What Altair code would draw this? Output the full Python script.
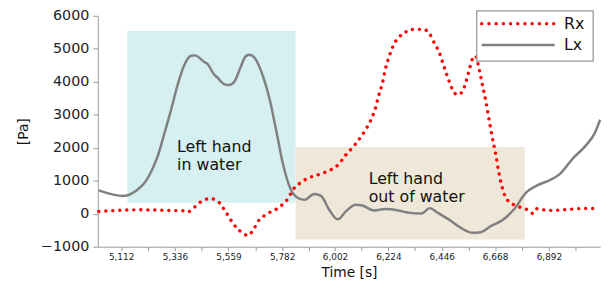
import altair as alt
import pandas as pd

# ---- data ----
lx_time = [5019, 5122, 5177, 5211, 5238, 5266, 5293, 5320, 5348, 5375, 5403, 5419,
           5458, 5471, 5499, 5512, 5540, 5560, 5581, 5608, 5629, 5645, 5663, 5704,
           5731, 5759, 5786, 5814, 5841, 5875, 5916, 5944, 5978, 6013, 6047, 6088,
           6115, 6163, 6211, 6266, 6314, 6362, 6396, 6430, 6485, 6526, 6574, 6608,
           6649, 6704, 6745, 6800, 6841, 6896, 6937, 6992, 7047, 7081, 7105]
lx_val = [710, 540, 710, 950, 1290, 1780, 2460, 3150, 3930, 4510, 4790, 4800,
          4600, 4540, 4220, 4130, 3930, 3900, 3980, 4420, 4760, 4820, 4760, 4130,
          3440, 2460, 1490, 800, 510, 420, 600, 540, 120, -170, 70, 270,
          250, 100, 140, 100, 25, 5, 170, 25, -220, -430, -580, -560,
          -380, -170, 120, 660, 850, 1020, 1200, 1680, 2080, 2420, 2850]

rx_time = [5019, 5190, 5307, 5368, 5389, 5410, 5434, 5458, 5482, 5512, 5546, 5574,
           5594, 5618, 5638, 5660, 5683, 5711, 5738, 5766, 5786, 5807, 5827, 5855,
           5882, 5937, 5985, 6013, 6047, 6085, 6122, 6149, 6170, 6184, 6200, 6211,
           6227, 6245, 6266, 6290, 6307, 6342, 6369, 6394, 6417, 6435, 6451, 6469,
           6490, 6509, 6531, 6548, 6561, 6575, 6586, 6602, 6616, 6630, 6643, 6655,
           6671, 6685, 6701, 6719, 6771, 6802, 6826, 6843, 6887, 6956, 7038, 7101]
rx_val = [70, 120, 100, 90, 50, 150, 310, 420, 460, 390, 70, -250,
          -445, -580, -660, -513, -221, -45, 72, 171, 298, 464, 728, 922,
          1050, 1196, 1333, 1469, 1782, 2093, 2465, 2806, 3197, 3587, 3979, 4369,
          4759, 5101, 5345, 5462, 5570, 5590, 5590, 5473, 5150, 4905, 4564, 4174,
          3783, 3607, 3686, 4027, 4369, 4711, 4788, 4369, 3880, 3393, 2854, 2366,
          1782, 1196, 708, 415, 200, 122, 5, 151, 101, 122, 161, 151]

region_label = ["Left hand\nin water", "Left hand\nout of water"]
region_x0 = [5138, 5838]
region_x1 = [5838, 6792]
region_y0 = [335, -780]
region_y1 = [5540, 2025]
region_color = ["#d6eff0", "#efe8d8"]
text_x = [5345, 6142]
text_y = [1860, 905]

tick_labels = [5112, 5336, 5559, 5782, 6002, 6224, 6446, 6668, 6892]
y_ticks = [-1000, 0, 1000, 2000, 3000, 4000, 5000, 6000]
series_names = ["Rx", "Lx"]
series_colors = ["#ff0000", "#808080"]

# ---- tables ----
lx_df = pd.DataFrame({"t": lx_time, "v": lx_val})
rx_df = pd.DataFrame({"t": rx_time, "v": rx_val})
reg_df = pd.DataFrame({"x0": region_x0, "x1": region_x1, "y0": region_y0,
                       "y1": region_y1, "c": region_color, "label": region_label,
                       "tx": text_x, "ty": text_y})

mids = [(a + b) / 2 for a, b in zip(tick_labels[:-1], tick_labels[1:])]
x_values = sorted(tick_labels + mids + [tick_labels[-1] + 112])
lab_list = ",".join(str(v) for v in tick_labels)

xscale = alt.Scale(domain=[5015, 7105], nice=False, zero=False)
yscale = alt.Scale(domain=[-1000, 6000], nice=False, zero=False)

xaxis = alt.Axis(values=x_values, title="Time [s]", grid=False,
                 labelExpr=f"indexof([{lab_list}], datum.value) >= 0 ? format(datum.value, ',') : ''",
                 labelOverlap=False, labelFlush=False, labelFontSize=9,
                 labelPadding=2, tickSize=4, titleFontSize=14, titlePadding=4,
                 titleFontWeight="normal", domainColor="#999999", tickColor="#999999",
                 labelColor="#222222", titleColor="#111111")
yaxis = alt.Axis(values=y_ticks, title="[Pa]", grid=False, format="d",
                 labelOverlap=False, labelFlush=False, labelBound=False,
                 labelFontSize=14.5, labelPadding=4, tickSize=5, titleFontSize=14,
                 titlePadding=10, titleFontWeight="normal", domainColor="#999999",
                 tickColor="#999999", labelColor="#222222", titleColor="#111111")

rects = alt.Chart(reg_df).mark_rect().encode(
    x=alt.X("x0:Q", scale=xscale, axis=xaxis),
    x2="x1:Q",
    y=alt.Y("y0:Q", scale=yscale, axis=yaxis),
    y2="y1:Q",
    color=alt.Color("c:N", scale=None),
)

texts = alt.Chart(reg_df).mark_text(align="left", baseline="alphabetic", fontSize=16,
                                   lineBreak="\n", lineHeight=18.3, color="#111111").encode(
    x=alt.X("tx:Q", scale=xscale, axis=xaxis),
    y=alt.Y("ty:Q", scale=yscale, axis=yaxis),
    text="label:N",
)

lx_line = alt.Chart(lx_df).mark_line(color=series_colors[1], strokeWidth=2.5,
                                     interpolate="monotone").encode(
    x=alt.X("t:Q", scale=xscale, axis=xaxis), y=alt.Y("v:Q", scale=yscale, axis=yaxis))

rx_line = alt.Chart(rx_df).mark_line(color=series_colors[0], strokeWidth=3.4,
                                     strokeDash=[0.1, 7], strokeCap="round",
                                     interpolate="monotone").encode(
    x=alt.X("t:Q", scale=xscale, axis=xaxis), y=alt.Y("v:Q", scale=yscale, axis=yaxis))

one = alt.Data(values=[{}])
leg_box = alt.Chart(one).mark_rect(fill="white", stroke="#999999", strokeWidth=1.3).encode(
    x=alt.value(384), x2=alt.value(502), y=alt.value(-5), y2=alt.value(46))
leg_rx = alt.Chart(one).mark_rule(color=series_colors[0], strokeWidth=3.4,
                                  strokeDash=[0.1, 7.2], strokeCap="round").encode(
    x=alt.value(389), x2=alt.value(462), y=alt.value(8))
leg_lx = alt.Chart(one).mark_rule(color=series_colors[1], strokeWidth=2.5).encode(
    x=alt.value(389), x2=alt.value(463), y=alt.value(29.5))
leg_t1 = alt.Chart(one).mark_text(text=series_names[0], align="left", baseline="middle",
                                  fontSize=16, color="#111111").encode(
    x=alt.value(472.5), y=alt.value(8.5))
leg_t2 = alt.Chart(one).mark_text(text=series_names[1], align="left", baseline="middle",
                                  fontSize=16, color="#111111").encode(
    x=alt.value(472.5), y=alt.value(30))

chart = alt.layer(rects, texts, lx_line, rx_line, leg_box, leg_rx, leg_lx, leg_t1, leg_t2).properties(
    width=509, height=234,
    autosize=alt.AutoSizeParams(type="none"),
    padding={"left": 91, "top": 6, "right": 8, "bottom": 44},
).configure(font="DejaVu Sans").configure_view(stroke=None)

chart.save("out.html", embed_options={"renderer": "svg", "actions": False})
